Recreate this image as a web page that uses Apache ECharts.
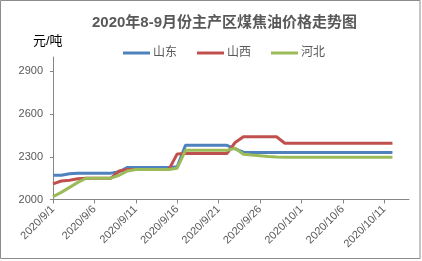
<!DOCTYPE html>
<html><head><meta charset="utf-8">
<script src="https://cdn.jsdelivr.net/npm/echarts@6/dist/echarts.min.js"></script>
<style>html,body{margin:0;padding:0;background:#fff}#c{width:422px;height:261px}</style>
</head><body><div id="c"></div>
<script>
const categories = ['2020/9/1','2020/9/2','2020/9/3','2020/9/4','2020/9/5','2020/9/6','2020/9/7','2020/9/8','2020/9/9','2020/9/10',
'2020/9/11','2020/9/12','2020/9/13','2020/9/14','2020/9/15','2020/9/16','2020/9/17','2020/9/18','2020/9/19','2020/9/20',
'2020/9/21','2020/9/22','2020/9/23','2020/9/24','2020/9/25','2020/9/26','2020/9/27','2020/9/28','2020/9/29','2020/9/30',
'2020/10/1','2020/10/2','2020/10/3','2020/10/4','2020/10/5','2020/10/6','2020/10/7','2020/10/8','2020/10/9','2020/10/10',
'2020/10/11','2020/10/12','2020/10/13','2020/10/14'];
const shandong = [2170,2170,2180,2185,2185,2185,2185,2185,2195,2225,
2225,2225,2225,2225,2225,2230,2380,2380,2380,2380,
2380,2380,2355,2332,2330,2330,2330,2330,2330,2330,
2330,2330,2330,2330,2330,2330,2330,2330,2330,2330,
2330,2330];
const shanxi = [2110,2130,2135,2145,2150,2150,2150,2150,2200,2210,
2210,2210,2210,2210,2210,2320,2322,2322,2322,2322,
2322,2322,2400,2440,2440,2440,2440,2440,2395,2395,
2395,2395,2395,2395,2395,2395,2395,2395,2395,2395,
2395,2395];
const hebei = [2020,2050,2085,2120,2150,2150,2150,2150,2170,2200,
2210,2210,2210,2210,2210,2220,2345,2345,2345,2345,
2345,2345,2360,2318,2312,2307,2302,2298,2297,2297,
2297,2297,2297,2297,2297,2297,2297,2297,2297,2297,
2297,2297];
const yTicks = [2000,2300,2600,2900];

const FF = "'Liberation Sans','Noto Sans CJK SC',sans-serif";
const chart = echarts.init(document.getElementById('c'));
const mk = (name, data, color) => ({
  name, type:'line', data, showSymbol:false, symbol:'none', animation:false,
  lineStyle:{color, width:3}, itemStyle:{color}
});
chart.setOption({
  animation:false,
  title:{text:'2020年8-9月份主产区煤焦油价格走势图', left:87, top:10,
    textStyle:{fontSize:15, fontWeight:'bold', color:'#595959', fontFamily:FF}},
  graphic:[
    {type:'rect', shape:{x:0.5,y:0.5,width:419.5,height:258}, style:{fill:'none', stroke:'#8c8c8c', lineWidth:1}},
    {type:'text', left:33, top:35, style:{text:'元/吨', fontSize:13, fill:'#000', fontFamily:FF}}
  ],
  legend:{left:118, top:42, itemWidth:27, itemHeight:3, itemGap:20, icon:'rect',
    textStyle:{fontSize:12, color:'#595959', fontFamily:FF, padding:[0,0,0,-2]},
    data:['山东','山西','河北']},
  grid:{left:53, right:13, top:57, bottom:61.5},
  xAxis:{type:'category', data:categories, boundaryGap:false,
    axisLine:{lineStyle:{color:'#868686'}},
    axisTick:{interval:4, length:4, lineStyle:{color:'#868686'}},
    axisLabel:{interval:4, rotate:45, fontSize:11, color:'#595959', fontFamily:FF, margin:8}},
  yAxis:{type:'value', min:2000, max:3000, interval:300,
    splitLine:{show:false},
    axisLine:{show:true, lineStyle:{color:'#868686'}},
    axisTick:{show:true, length:3, customValues:yTicks, lineStyle:{color:'#868686'}},
    axisLabel:{customValues:yTicks, formatter:(v)=>String(v), fontSize:11, color:'#595959', fontFamily:FF, margin:10}},
  series:[mk('山东', shandong, '#4F81BD'), mk('山西', shanxi, '#C0504D'), mk('河北', hebei, '#9BBB59')]
});
</script></body></html>
